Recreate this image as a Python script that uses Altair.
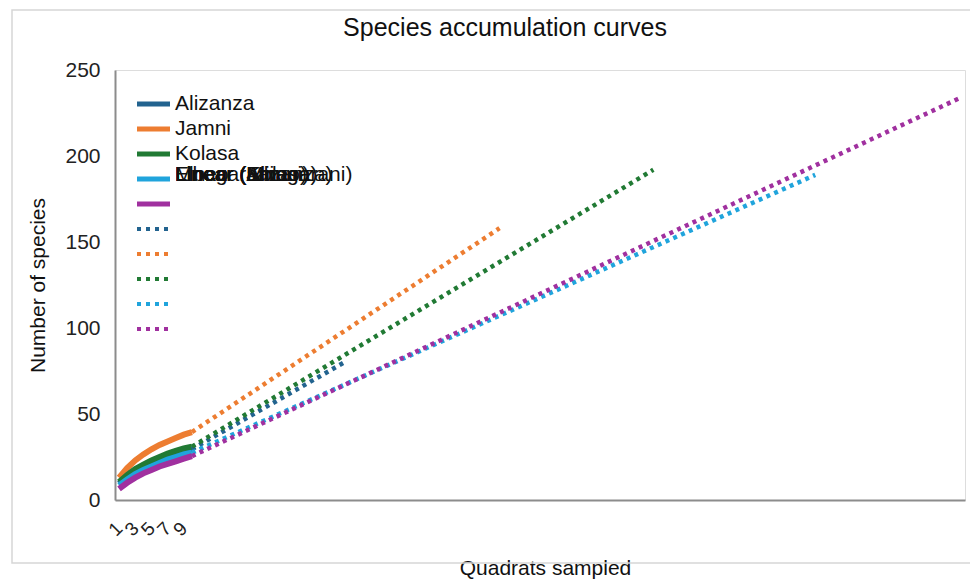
import altair as alt
import pandas as pd

# Sites and their colours
sites = ["Alizanza", "Jamni", "Kolasa", "Elneo", "Mbagarani"]
site_colors = ["#22638f", "#ed7d31", "#217a34", "#20a4dc", "#a0309f"]

# Observed accumulation, quadrats 1-10
quadrats = list(range(1, 11))
obs_alizanza = [9.5, 13.5, 17, 19.5, 22, 24, 25.5, 27, 28.5, 29.5]
obs_jamni = [13, 18.5, 23, 26.5, 29.5, 32, 34, 36, 38, 39.5]
obs_kolasa = [10.5, 14.5, 18, 20.5, 23, 25, 27, 28.5, 30, 31]
obs_elneo = [8.5, 12, 15, 17.5, 19.5, 21.5, 23.5, 25, 26.5, 27.5]
obs_mbagarani = [6.5, 10, 13, 15.5, 17.5, 19.5, 21, 22.5, 24, 25.5]
observed = [obs_alizanza, obs_jamni, obs_kolasa, obs_elneo, obs_mbagarani]

# Linear trendline end points (quadrats, species)
proj_end_quadrat = [29, 48, 67, 87, 105]
proj_end_species = [80.5, 158, 192, 189, 234]

# Legend entries
solid_labels = sites
dotted_labels = ["Linear (" + s + ")" for s in sites]

x_ticks = [1, 3, 5, 7, 9]

FONT = "Liberation Sans"

obs_rows = []
for s, vals in zip(sites, observed):
    for q, v in zip(quadrats, vals):
        obs_rows.append({"site": s, "quadrat": q, "species": v})
obs_df = pd.DataFrame(obs_rows)

proj_rows = []
for s, vals, qe, se in zip(sites, observed, proj_end_quadrat, proj_end_species):
    proj_rows.append({"site": s, "quadrat": quadrats[-1], "species": vals[-1]})
    proj_rows.append({"site": s, "quadrat": qe, "species": se})
proj_df = pd.DataFrame(proj_rows)

color_scale = alt.Scale(domain=sites, range=site_colors)

x_enc = alt.X(
    "quadrat:Q",
    scale=alt.Scale(domain=[0.5, 105.5], nice=False, zero=False),
    axis=alt.Axis(
        values=x_ticks, title="Quadrats sampled", grid=False, ticks=False,
        domainColor="#8c8c8c", domainWidth=2,
        labelAngle=-45, labelAlign="right", labelBaseline="middle",
        labelPadding=25, labelFontSize=19, labelFont=FONT, labelColor="#222",
        labelOverlap=False,
        titleFont=FONT, titleFontSize=21, titleFontWeight="normal", titleColor="#111",
        titleX=430, titleY=57, titleAlign="center", titleBaseline="top",
    ),
)
y_enc = alt.Y(
    "species:Q",
    scale=alt.Scale(domain=[0, 250], nice=False),
    axis=alt.Axis(
        values=[0, 50, 100, 150, 200, 250], title="Number of species",
        grid=False, ticks=False, domainColor="#8c8c8c", domainWidth=2,
        labelPadding=15, labelFontSize=21, labelFont=FONT, labelColor="#222",
        titleFont=FONT, titleFontSize=21, titleFontWeight="normal", titleColor="#111",
        titleAngle=-90, titleX=-77, titleY=215, titleAlign="center",
        titleBaseline="middle",
    ),
)

observed_lines = alt.Chart(obs_df).mark_line(strokeWidth=6, strokeCap="butt").encode(
    x=x_enc, y=y_enc,
    color=alt.Color("site:N", scale=color_scale, legend=None),
    detail="site:N",
)

trend_lines = alt.Chart(proj_df).mark_line(
    strokeWidth=4.5, strokeDash=[4, 4.5], strokeCap="butt"
).encode(
    x="quadrat:Q", y="species:Q",
    color=alt.Color("site:N", scale=color_scale, legend=None),
    detail="site:N",
)

# Hand-built legend to the upper left of the plot
row0, row_step = 34, 25
leg_solid = pd.DataFrame({
    "site": sites,
    "ly": [row0 + row_step * i for i in range(len(sites))],
})
leg_dotted = pd.DataFrame({
    "site": sites,
    "ly": [row0 + row_step * (len(sites) + i) for i in range(len(sites))],
})
label_rows = []
for i, lab in enumerate(solid_labels):
    ty = row0 + row_step * i if i < 3 else row0 + row_step * 3 - 4
    label_rows.append({"label": lab, "ty": ty})
for lab in dotted_labels:
    label_rows.append({"label": lab, "ty": row0 + row_step * 3 - 4})
leg_labels = pd.DataFrame(label_rows)

legend_solid = alt.Chart(leg_solid).mark_rule(strokeWidth=5, strokeCap="butt").encode(
    x=alt.value(22), x2=alt.value(55),
    y=alt.Y("ly:Q", scale=None),
    color=alt.Color("site:N", scale=color_scale, legend=None),
)
legend_dotted = alt.Chart(leg_dotted).mark_rule(
    strokeWidth=4, strokeDash=[4, 5], strokeCap="butt"
).encode(
    x=alt.value(22), x2=alt.value(55),
    y=alt.Y("ly:Q", scale=None),
    color=alt.Color("site:N", scale=color_scale, legend=None),
)
legend_text = alt.Chart(leg_labels).mark_text(
    align="left", baseline="middle", fontSize=21, font=FONT, color="#111"
).encode(
    x=alt.value(60),
    y=alt.Y("ty:Q", scale=None),
    text="label:N",
)

# Chart title
title_mark = alt.Chart(pd.DataFrame({"t": ["Species accumulation curves"]})).mark_text(
    align="center", baseline="middle", fontSize=25, font=FONT, color="#111"
).encode(x=alt.value(390), y=alt.value(-42), text="t:N")

# Thin frame around the figure (right side runs past the page edge)
frame = alt.Chart(pd.DataFrame({"k": [0]})).mark_rect(
    fillOpacity=0, stroke="#d6d6d6", strokeWidth=1.5
).encode(
    x=alt.value(-103), x2=alt.value(870),
    y=alt.value(-60), y2=alt.value(493),
)

chart = alt.layer(
    frame, title_mark, observed_lines, trend_lines,
    legend_solid, legend_dotted, legend_text
).properties(
    width=850, height=430,
    autosize=alt.AutoSizeParams(type="none"),
    padding={"left": 115, "top": 70, "right": 5, "bottom": 80},
).configure_view(stroke=None).configure(background="white")

chart.save("out.html", embed_options={"renderer": "svg", "actions": False})
